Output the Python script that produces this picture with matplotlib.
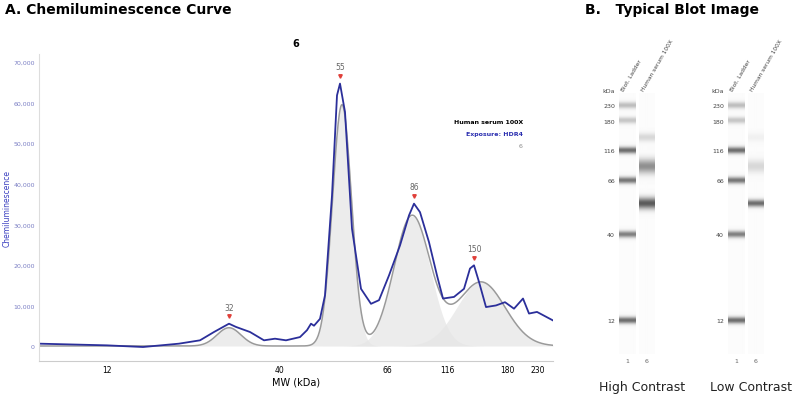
import numpy as np
import matplotlib
matplotlib.use("Agg")
import matplotlib.pyplot as plt

# ---- data ----
mw_ticks = [12, 40, 66, 116, 180, 230]
mw_tick_pos = [107, 280, 387, 447, 507, 538]   # position along the aligned MW axis
blue_x = [39,107,143,179,200,214,229,236,250,264,275,286,300,307,311,314,320,325,332,337,340,345,352,361,371,379,389,400,409,414,420,429,437,443,454,464,470,474,479,486,496,505,514,523,529,537,553]
blue_y = [575,160,-250,575,1400,3450,5500,4700,3450,1400,1800,1400,2200,3900,5500,5000,6700,12500,37100,61800,64700,57700,28900,14100,10400,11300,17400,24800,32200,35100,33000,25600,17400,11700,12100,14100,19100,19900,15800,9600,10000,10800,9200,11700,8000,8400,6300]
peak_labels = ["32", "55", "86", "150"]
peak_pos = [229, 340, 414, 474]
peak_val = [5500, 64700, 35100, 19900]
fit_center = [229, 342, 412, 481]
fit_height = [4500, 59500, 32000, 15800]
fit_sigma = [12, 9.5, 18, 24]

ladder_kda = ["230", "180", "116", "66", "40", "12"]
ladder_y = [107, 122, 152, 182, 236, 322]
ladder_int = [0.35, 0.3, 0.8, 0.75, 0.7, 0.8]
sample_y = [139, 168, 205]
sample_high = [0.2, 0.6, 0.9]
sample_low = [0.06, 0.2, 0.8]

W, H = 800, 402
fig = plt.figure(figsize=(8, 4.02), dpi=100)
fig.patch.set_facecolor("white")

ax = fig.add_axes([39/W, (H-362)/H, (553-39)/W, (362-55)/H])
xs = np.linspace(39, 553, 800)
total = np.zeros_like(xs)
for c, h, s in zip(fit_center, fit_height, fit_sigma):
    g = h*np.exp(-0.5*((xs-c)/s)**2)
    total += g
    ax.fill_between(xs, 0, g, color="#e6e6e6", alpha=0.75, lw=0)
ax.plot(xs, total, color="#9a9a9a", lw=1.1)
ax.plot(blue_x, blue_y, color="#2b2f9a", lw=1.3)
for lab, px, pv in zip(peak_labels, peak_pos, peak_val):
    ax.plot(px, pv + 1800, marker="v", color="#e0403a", ms=2.5)
    ax.text(px, pv + 3000, lab, ha="center", va="bottom", fontsize=5.5, color="#666666")
ax.set_xlim(39, 553)
ax.set_ylim(-3700, 72000)
ax.set_xticks(mw_tick_pos)
ax.set_xticklabels([str(t) for t in mw_ticks], fontsize=5.5)
ax.set_yticks(range(0, 70001, 10000))
ax.set_yticklabels(["0"] + [f"{v:,}" for v in range(10000, 70001, 10000)], fontsize=4.5, color="#7b7fc4")
ax.tick_params(length=0, pad=3)
for s in ["top", "right"]:
    ax.spines[s].set_visible(False)
ax.spines["left"].set_color("#dddddd")
ax.spines["bottom"].set_color("#cccccc")
ax.set_xlabel("MW (kDa)", fontsize=7, labelpad=2)
ax.set_ylabel("Chemiluminescence", fontsize=5.5, color="#3a3fc0", labelpad=1)
ax.set_title("6", fontsize=7, fontweight="bold", pad=6)
ax.text(523, 55000, "Human serum 100X", ha="right", fontsize=4.5, fontweight="bold", color="black")
ax.text(523, 52000, "Exposure: HDR4", ha="right", fontsize=4.5, fontweight="bold", color="#2b2fb0")
ax.text(523, 49000, "6", ha="right", fontsize=4.5, color="#888888")

fig.text(5/W, 1-10/H, "A. Chemiluminescence Curve", fontsize=10, fontweight="bold", va="center")
fig.text(585/W, 1-10/H, "B.   Typical Blot Image", fontsize=10, fontweight="bold", va="center")

# ---- blot panel ----
bx = fig.add_axes([590/W, 0, (W-590)/W, (H-50)/H])
bx.set_xlim(590, 800)
bx.set_ylim(402, 50)
bx.axis("off")
yy = np.arange(95, 356, 0.5)

def lane(xc, ys, ints, width, sigs):
    prof = np.zeros_like(yy)
    for y0, a, sg in zip(ys, ints, sigs):
        prof += a*np.exp(-0.5*((yy-y0)/sg)**2)
    prof = np.clip(prof, 0, 1)
    img = 0.985 - 0.7*prof
    bx.imshow(img[:, None], cmap="gray", vmin=0, vmax=1, aspect="auto",
              extent=(xc-width/2, xc+width/2, yy[-1], yy[0]), interpolation="bilinear")

for lx, sx, sint, ssig, cap in [(627, 647, sample_high, [3, 5, 4], "High Contrast"),
                                (736, 756, sample_low, [3, 4.5, 2.5], "Low Contrast")]:
    lane(lx, ladder_y, ladder_int, 17, [2.3]*6)
    lane(sx, sample_y, sint, 16, ssig)
    for k, y0 in zip(ladder_kda, ladder_y):
        bx.text(lx - 12, y0, k, ha="right", va="center", fontsize=4.5, color="#444444")
    bx.text(lx - 12, 94, "kDa", ha="right", va="bottom", fontsize=4.5, color="#444444")
    bx.text(lx - 2, 92, "Biot. Ladder", rotation=60, ha="left", va="bottom", fontsize=4.2, color="#444444", rotation_mode="anchor")
    bx.text(sx - 2, 92, "Human serum 100X", rotation=60, ha="left", va="bottom", fontsize=4.2, color="#444444", rotation_mode="anchor")
    bx.text(lx, 362, "1", ha="center", va="center", fontsize=4.5, color="#666666")
    bx.text(sx, 362, "6", ha="center", va="center", fontsize=4.5, color="#666666")
    bx.text((lx+sx)/2 + 5, 388, cap, ha="center", va="center", fontsize=9, color="#222222")

bx.set_xlim(590, 800)
bx.set_ylim(402, 50)
fig.savefig("out.png", dpi=100)
